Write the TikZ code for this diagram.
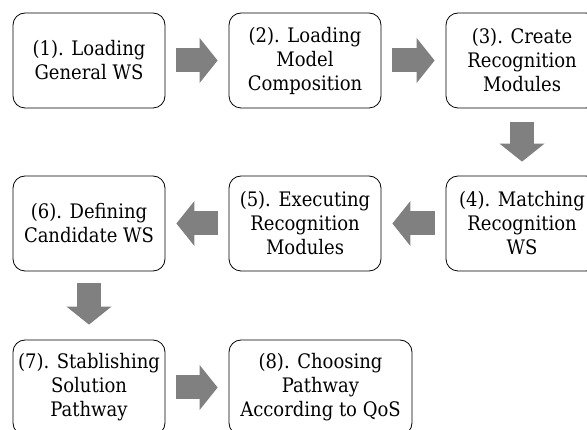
\documentclass[tikz,border=0pt]{standalone}
\usepackage{fontspec}
\setmainfont{DejaVu Serif Condensed}
\usetikzlibrary{arrows.meta}
\begin{document}
\begin{tikzpicture}[x=1pt,y=-1pt,font=\fontsize{20}{24}\selectfont,
	stage/.style={draw,rounded corners=12pt,line width=0.8pt,minimum width=152pt,minimum height=95pt,align=center,inner sep=0pt},
	flow/.style={line width=24pt,color=gray,-{Triangle[length=18pt,width=45pt,line width=0pt]},shorten <=11pt,shorten >=11pt}]
	\clip (0,0) rectangle (587,430);
	% first row
	\node[stage] (s1) at (89,60.5) {(1). Loading\\General WS};
	\node[stage] (s2) at (305,60.5) {(2). Loading\\Model\\Composition};
	\node[stage] (s3) at (522,60.5) {(3). Create\\Recognition\\Modules};
	% second row, right to left
	\node[stage] (s4) at (522,223.5) {(4). Matching\\Recognition\\WS};
	\node[stage] (s5) at (305,223.5) {(5). Executing\\Recognition\\Modules};
	\node[stage] (s6) at (89,223.5) {(6). Defining\\Candidate WS};
	% last row
	\node[stage] (s7) at (89,387.5) {(7). Stablishing\\Solution\\Pathway};
	\node[stage,minimum width=183pt] (s8) at (320.5,387.5) {(8). Choosing\\Pathway\\According to QoS};
	\draw[flow] (s1) -- (s2);
	\draw[flow] (s2) -- (s3);
	\draw[flow,shorten <=14pt,shorten >=14pt] (s3) -- (s4);
	\draw[flow] (s4) -- (s5);
	\draw[flow] (s5) -- (s6);
	\draw[flow,shorten <=12pt,shorten >=15pt] (s6) -- (s7);
	\draw[flow] (s7) -- (s8);
\end{tikzpicture}
\end{document}
